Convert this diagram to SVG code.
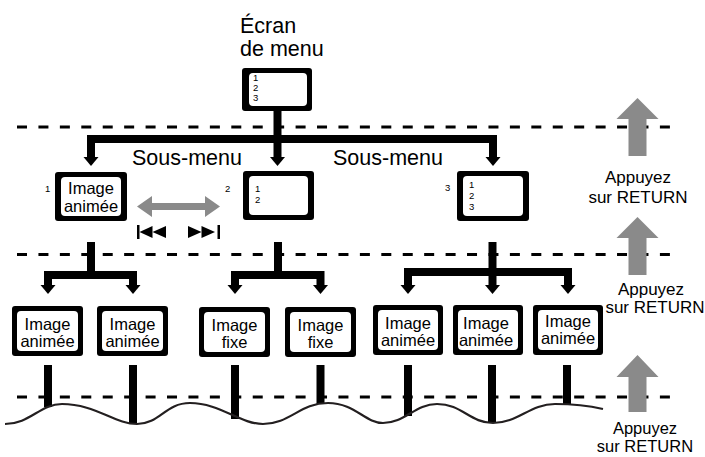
<svg xmlns="http://www.w3.org/2000/svg" width="705" height="457" viewBox="0 0 705 457">
<style>
text{font-family:"Liberation Sans",Arial,Helvetica,sans-serif;fill:#000}
.frame{fill:#000}
.screen{fill:#fff}
.lbl{font-size:16.5px;text-anchor:middle}
.num{font-size:9.5px}
.big{font-size:21.5px}
.ret{font-size:17px;text-anchor:middle}
.ret3{font-size:16.5px;text-anchor:middle}
.dash{stroke:#000;stroke-width:3;stroke-dasharray:10 11.43;fill:none}
.conn{stroke:#000;stroke-width:8;fill:none;stroke-linejoin:miter}
.drop{stroke:#000;stroke-width:8;fill:none}
.wave{stroke:#231f20;stroke-width:2.2;fill:none}
.gray{fill:#8a8a8a}
</style>
<defs>
<polygon id="ah" points="-7.5,0 7.5,0 0,9" fill="#000"/>
</defs>

<g id="levels">
<line class="dash" x1="17" y1="127" x2="670" y2="127"/>
<line class="dash" x1="17" y1="254.5" x2="670" y2="254.5"/>
<line class="dash" x1="17" y1="397" x2="670" y2="397"/>
</g>

<g id="title">
<text class="big" x="240" y="33">Écran</text>
<text class="big" x="240" y="56">de menu</text>
</g>

<g id="connectors">
<path class="conn" d="M277.5,111 V158"/>
<path class="conn" d="M91,158 V139 H493 V158"/>
<use href="#ah" x="91" y="157"/>
<use href="#ah" x="277.5" y="157"/>
<use href="#ah" x="493" y="157"/>

<path class="conn" d="M91,242 V275"/>
<path class="conn" d="M48,286 V275 H133 V286"/>
<use href="#ah" x="48" y="285"/>
<use href="#ah" x="133" y="285"/>

<path class="conn" d="M278,242 V275"/>
<path class="conn" d="M235,286 V275 H320.5 V286"/>
<use href="#ah" x="235" y="285"/>
<use href="#ah" x="320.5" y="285"/>

<path class="conn" d="M492.5,242 V286"/>
<path class="conn" d="M408,286 V272 H568 V286"/>
<use href="#ah" x="408" y="285"/>
<use href="#ah" x="492.5" y="285"/>
<use href="#ah" x="568" y="285"/>

<line class="drop" x1="48" y1="365" x2="48" y2="407"/>
<line class="drop" x1="133" y1="365" x2="133" y2="424"/>
<line class="drop" x1="235" y1="365" x2="235" y2="419"/>
<line class="drop" x1="320.5" y1="365" x2="320.5" y2="404"/>
<line class="drop" x1="408" y1="365" x2="408" y2="416"/>
<line class="drop" x1="492" y1="365" x2="492" y2="423"/>
<line class="drop" x1="567" y1="365" x2="567" y2="405"/>
<path class="wave" d="M5,424 C30,424 40,404 62,404 C95,404 115,424 137,424 C160,424 165,403 190,403 C220,403 240,424 263,424 C290,424 300,403 328,403 C355,403 365,423 383,423 C405,423 415,404 437,404 C462,404 470,423 493,423 C518,423 530,404 555,404 C575,404 590,406 603,409"/>
</g>

<g id="node-menu">
<rect class="frame" x="242" y="68" width="70" height="43" rx="3"/>
<rect class="screen" x="249" y="73" width="58" height="33" rx="4"/>
<text class="num" x="253" y="81">1</text>
<text class="num" x="253" y="91">2</text>
<text class="num" x="253" y="101">3</text>
</g>

<g id="submenu-labels">
<text class="big" x="132" y="165">Sous-menu</text>
<text class="big" x="333" y="165">Sous-menu</text>
</g>

<g id="node-sub1">
<text class="num" x="45" y="192">1</text>
<rect class="frame" x="55" y="172" width="72" height="49" rx="3"/>
<rect class="screen" x="61" y="177" width="60" height="39" rx="4"/>
<text class="lbl" x="91" y="194">Image</text>
<text class="lbl" x="91" y="212">animée</text>
</g>

<g id="skip-control">
<polygon class="gray" points="137,206.5 152,196 152,203 205,203 205,196 220,206.5 205,217 205,210 152,210 152,217"/>
<rect x="137" y="225" width="2.5" height="14" fill="#000"/>
<polygon points="139.5,232 152.5,226 152.5,238" fill="#000"/>
<polygon points="152.5,232 166,226 166,238" fill="#000"/>
<polygon points="188,226 201.5,232 188,238" fill="#000"/>
<polygon points="201.5,226 215,232 201.5,238" fill="#000"/>
<rect x="217.5" y="225" width="2.5" height="14" fill="#000"/>
</g>

<g id="node-sub2">
<text class="num" x="225" y="192">2</text>
<rect class="frame" x="243" y="171" width="71" height="49" rx="3"/>
<rect class="screen" x="249" y="176" width="59" height="39" rx="4"/>
<text class="num" x="255" y="192">1</text>
<text class="num" x="255" y="203">2</text>
</g>

<g id="node-sub3">
<text class="num" x="445" y="191">3</text>
<rect class="frame" x="457" y="171" width="72" height="50" rx="3"/>
<rect class="screen" x="463" y="176" width="60" height="40" rx="4"/>
<text class="num" x="469" y="188">1</text>
<text class="num" x="469" y="199">2</text>
<text class="num" x="469" y="210">3</text>
</g>

<g id="node-a">
<rect class="frame" x="12" y="306" width="71" height="50" rx="3"/>
<rect class="screen" x="17" y="311" width="61" height="40" rx="4"/>
<text class="lbl" x="47.5" y="330">Image</text>
<text class="lbl" x="47.5" y="347">animée</text>
</g>
<g id="node-b">
<rect class="frame" x="97" y="306" width="71" height="50" rx="3"/>
<rect class="screen" x="102" y="311" width="61" height="40" rx="4"/>
<text class="lbl" x="132.5" y="330">Image</text>
<text class="lbl" x="132.5" y="347">animée</text>
</g>
<g id="node-c">
<rect class="frame" x="199" y="307" width="71" height="50" rx="3"/>
<rect class="screen" x="204" y="312" width="61" height="40" rx="4"/>
<text class="lbl" x="234.5" y="331">Image</text>
<text class="lbl" x="234.5" y="348">fixe</text>
</g>
<g id="node-d">
<rect class="frame" x="285" y="307" width="71" height="50" rx="3"/>
<rect class="screen" x="290" y="312" width="61" height="40" rx="4"/>
<text class="lbl" x="320.5" y="331">Image</text>
<text class="lbl" x="320.5" y="348">fixe</text>
</g>
<g id="node-e">
<rect class="frame" x="373" y="305" width="70" height="50" rx="3"/>
<rect class="screen" x="378" y="310" width="60" height="40" rx="4"/>
<text class="lbl" x="408" y="329">Image</text>
<text class="lbl" x="408" y="346">animée</text>
</g>
<g id="node-f">
<rect class="frame" x="453" y="305" width="70" height="50" rx="3"/>
<rect class="screen" x="458" y="310" width="60" height="40" rx="4"/>
<text class="lbl" x="486" y="329">Image</text>
<text class="lbl" x="486" y="346">animée</text>
</g>
<g id="node-g">
<rect class="frame" x="533" y="305" width="70" height="50" rx="3"/>
<rect class="screen" x="538" y="310" width="60" height="40" rx="4"/>
<text class="lbl" x="568" y="327">Image</text>
<text class="lbl" x="568" y="344">animée</text>
</g>

<g id="return-1">
<polygon class="gray" points="637.5,98 658.5,119 646.5,119 646.5,156 628.5,156 628.5,119 616.5,119"/>
<text class="ret" x="638" y="183">Appuyez</text>
<text class="ret" x="638" y="203">sur RETURN</text>
</g>
<g id="return-2">
<polygon class="gray" points="637.5,217 658.5,238 646.5,238 646.5,275 628.5,275 628.5,238 616.5,238"/>
<text class="ret" x="651" y="295">Appuyez</text>
<text class="ret" x="655" y="313">sur RETURN</text>
</g>
<g id="return-3">
<polygon class="gray" points="637.5,355 658.5,377 646.5,377 646.5,412 628.5,412 628.5,377 616.5,377"/>
<text class="ret3" x="645" y="434">Appuyez</text>
<text class="ret3" x="645" y="452">sur RETURN</text>
</g>
</svg>
